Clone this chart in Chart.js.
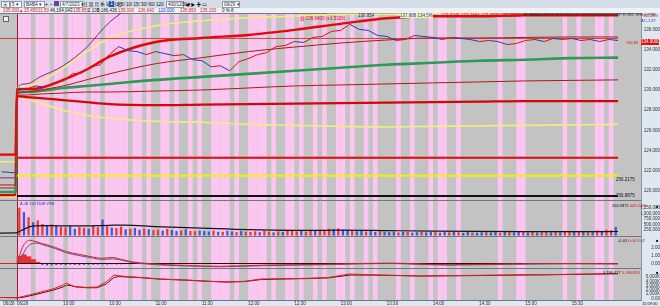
<!DOCTYPE html>
<html>
<head>
<meta charset="utf-8">
<script src="https://cdn.jsdelivr.net/npm/chart.js@4.4.0/dist/chart.umd.min.js"></script>
<style>
body { margin: 0; width: 660px; height: 306px; overflow: hidden; background: #dfe7f0;
       font-family: "Liberation Sans", "Noto Sans CJK SC", sans-serif; }
#wrap { position: relative; width: 660px; height: 306px; }
canvas { position: absolute; left: 0; }
.t { position: absolute; white-space: nowrap; font-size: 5px; line-height: 5px; }
.bx { position: absolute; top: 1px; height: 5px; background: #fff; border: 1px solid #8a9ab0;
      font-size: 4.5px; line-height: 5px; color: #222; padding-left: 1px; box-sizing: content-box; white-space: nowrap; }
.r { color: #e01010; } .k { color: #111; } .b { color: #2040c0; } .p { color: #8030a0; }
</style>
</head>
<body>
<div id="wrap">
  <div style="position:absolute;left:0;top:0;width:660px;height:8px;background:#d3dce7;"></div>
  <div style="position:absolute;left:0;top:8px;width:660px;height:5px;background:#eef2f7;"></div>
  <span class="bx" style="left:1px;width:6px">▣</span>
  <span class="bx" style="left:10px;width:9px">5 ▾</span>
  <span class="bx" style="left:24px;width:18px">BABA ▾</span>
  <span class="t k" style="left:45px;top:2px">+</span>
  <span class="t k" style="left:50px;top:2px">−</span>
  <span style="position:absolute;left:54px;top:1px;width:5px;height:5px;background:#7040a0"></span>
  <span class="bx" style="left:60px;width:20px">4/7/2023 ▾</span>
  <span class="t k" style="left:83px;top:2px;font-size:4.5px">日 周 月 季 年 分 秒</span>
  <span style="position:absolute;left:109px;top:1px;width:5px;height:6px;background:#2050c0;color:#fff;font-size:4.5px;line-height:6px;text-align:center">1</span>
  <span class="t k" style="left:116px;top:2px;font-size:4.5px">1/ 5/ 10/ 15/ 30/ 60/ 120</span>
  <span class="bx" style="left:166px;width:15px">400/1200 ▾</span>
  <span class="t k" style="left:185px;top:2px;font-size:4.5px">◀ ▶ ✚ ▭</span>
  <span class="bx" style="left:222px;width:15px">09/29 ▾</span>

  <span class="t r" style="left:3px;top:8px;font-size:4.5px">135.000</span>
  <span class="t r" style="left:19px;top:8px;font-size:4.5px">▲</span>
  <span class="t r" style="left:24px;top:8px;font-size:4.5px">15.450</span>
  <span class="t r" style="left:38px;top:8px;font-size:4.5px">11.50</span>
  <span class="t k" style="left:50px;top:8px;font-size:4.5px">46,164,043</span>
  <span class="t r" style="left:73px;top:8px;font-size:4.5px">135.850</span>
  <span class="t k" style="left:88px;top:8px;font-size:4.5px">2.100</span>
  <span class="t k" style="left:97px;top:8px;font-size:4.5px">5,186,436</span>
  <span class="t r" style="left:118px;top:8px;font-size:4.5px">135.000</span>
  <span class="t r" style="left:138px;top:8px;font-size:4.5px">136.640</span>
  <span class="t b" style="left:158px;top:8px;font-size:4.5px">120.000</span>
  <span class="t r" style="left:180px;top:8px;font-size:4.5px">135.850</span>
  <span class="t r" style="left:200px;top:8px;font-size:4.5px">135.100</span>
  <span class="t k" style="left:222px;top:8px;font-size:4.5px">0 % 8</span>

  <canvas id="cMain" width="660" height="187" style="top:13px"></canvas>
  <canvas id="cVol" width="660" height="36" style="top:200px"></canvas>
  <canvas id="cMacd" width="660" height="32" style="top:236px"></canvas>
  <canvas id="cObv" width="660" height="38" style="top:268px"></canvas>

  <span style="position:absolute;left:3px;top:16px;width:4px;height:4px;border:1px solid #666;background:#eee"></span>
  <span class="t r" style="left:300px;top:16px;font-size:4.5px">高:136.6400 (+1.5326) →</span>
  <span class="t" style="left:358px;top:13px;font-size:4.5px;color:#203080">136.854</span>
  <span class="t b" style="left:400px;top:13px;font-size:4.5px;background:#f4f0a8">137.988 134.5%</span>
  <span class="t r" style="left:441px;top:13px;font-size:4.5px">137.3245 137.2884 137.6821 137.5503</span>
  <span class="t k" style="left:524px;top:13px;font-size:3.8px;color:#303030">ALIBABA GROUP HOLDING LTD SPON ADS EACH REP 8 ORD SHS 分时图</span>
  <span class="t r" style="left:643px;top:13px;font-size:4px">SC-1.23</span>
  <span class="t b" style="left:641px;top:18px;font-size:4px">AC-1.37</span>
  <span class="t r" style="left:626px;top:40px;font-size:4px">134.85</span>
  <span style="position:absolute;left:641px;top:39px;width:18px;height:6px;background:#e01010;color:#fff;font-size:4.5px;line-height:6px;text-align:center">134.9000</span>
  <span class="t k" style="left:616px;top:177px;font-size:4.5px">256.2175</span>
  <span class="t k" style="left:616px;top:193px;font-size:4.5px">256.8875</span>

  <span class="t b" style="left:20px;top:201px;font-size:4px">A.JB 1057648 VSN</span>
  <span class="t k" style="left:612px;top:203px;font-size:4px">266.9875 <span class="r">445.0206</span></span>
  <span class="t k" style="left:618px;top:238px;font-size:4px">-0.03 <span class="r">0.00</span> <span class="p">0.02</span></span>
  <span class="t k" style="left:603px;top:270px;font-size:4px">5,186,427 <span class="r">5,186,833</span></span>
  <span class="t k" style="left:656px;top:204px;font-size:4px">■</span>
  <span class="t k" style="left:656px;top:238px;font-size:4px">■</span>
  <span class="t k" style="left:656px;top:270px;font-size:4px">■</span>
  <span class="t k" style="left:642px;top:301px;font-size:4px">15:59:30</span>
</div>

<script>
// ---- data ----
// minutes since 9:30 open (negative = previous session 06/28)
const priceTimes = [-10, -1, 0, 6, 12, 18, 24, 30, 36, 42, 48, 54, 60, 66, 72, 78, 84, 90, 96, 102, 108, 114,
  120, 126, 132, 138, 144, 150, 156, 162, 168, 174, 180, 186, 192, 198, 204, 210, 216, 222, 228, 234,
  240, 246, 252, 258, 264, 270, 276, 282, 288, 294, 300, 306, 312, 318, 324, 330, 336, 342, 348, 354,
  360, 366, 372, 378, 384, 390];
const price = [121.9, 121.8, 130.2, 130.1, 130.4, 130.3, 130.7, 130.9, 131.6, 131.7, 132.3, 132.5, 133.5, 134.3,
  133.9, 133.8, 133.5, 133.8, 133.6, 133.4, 133.5, 133.0, 132.9, 132.3, 132.4, 131.9, 132.8, 133.1,
  133.5, 133.7, 134.3, 134.4, 134.8, 134.7, 135.2, 135.3, 135.8, 135.9, 136.5, 136.0, 135.9, 135.4,
  135.3, 134.9, 135.0, 135.4, 135.3, 135.2, 135.0, 135.2, 135.1, 135.0, 134.8, 134.9, 134.8, 134.5,
  134.6, 134.9, 135.0, 134.8, 135.1, 135.0, 135.1, 134.9, 135.0, 134.8, 135.0, 134.9];

const bandTimes = [-11, -1, 0, 6, 15, 30, 45, 60, 90, 120, 150, 180, 210, 240, 270, 300, 330, 360, 390];
const upperRed = [123.6, 123.6, 130.0, 130.1, 130.2, 131.0, 132.0, 133.3, 134.75, 135.15, 135.45, 135.95, 136.55, 137.1, 137.3, 137.3, 137.4, 137.4, 137.4];
const upperYellow = [122.9, 122.9, 130.2, 130.4, 130.8, 132.2, 133.75, 135.15, 136.35, 136.85, 137.15, 137.3, 137.5, 137.5, 137.6, 137.6, 137.7, 137.7, 137.7];
const purpleBand = [121.3, 121.3, 130.2, 130.6, 131.3, 132.4, 134.2, 136.7, 139.5, 140.5, 141.0, 141.2, 141.3, 141.3, 141.3, 141.3, 141.3, 141.3, 141.3];
const midRed = [120.6, 120.6, 129.7, 129.8, 130.0, 130.4, 131.0, 131.6, 132.6, 133.2, 133.8, 134.25, 134.65, 134.95, 135.15, 135.15, 135.2, 135.25, 135.25];
const vwap = [119.9, 119.9, 129.7, 129.8, 129.9, 130.2, 130.4, 130.6, 131.0, 131.3, 131.6, 131.9, 132.2, 132.5, 132.7, 132.9, 133.0, 133.15, 133.2];
const lowRedThin = [120.3, 120.3, 129.5, 129.5, 129.6, 129.7, 129.8, 129.8, 129.9, 130.0, 130.2, 130.4, 130.5, 130.6, 130.7, 130.8, 130.9, 130.95, 131.0];
const lowRed = [119.6, 119.6, 129.4, 129.3, 129.2, 129.0, 128.8, 128.6, 128.5, 128.55, 128.6, 128.65, 128.7, 128.75, 128.8, 128.85, 128.9, 128.9, 128.9];
const lowYellow = [119.4, 119.4, 129.3, 129.1, 128.7, 128.0, 127.5, 127.2, 126.9, 126.8, 126.6, 126.5, 126.4, 126.35, 126.4, 126.45, 126.5, 126.55, 126.6];

const prevCloseLevel = 135.1;
const levelRed = 123.3;
const levelYellow = 121.5;
const levelBlack = 119.5;

// 3-minute slots: pink background flags, volume (K) and its colour (r/b)
const slotMin = 3;
const pinkSlots = '1110111011' + '0111101101' + '1111011010' + '0110100101' + '0011110100' +
  '1111010011' + '0100101001' + '1010010100' + '0010010001' + '0110010000' +
  '0000100011' + '0000000010' + '0100011010';
const volume = [1250, 1050, 820, 600, 680, 520, 470, 500, 430, 380,
  360, 420, 300, 380, 350, 310, 450, 380, 720, 420,
  360, 330, 400, 280, 300, 340, 260, 310, 280, 240,
  260, 220, 300, 250, 200, 230, 280, 210, 190, 230,
  200, 180, 220, 170, 160, 210, 180, 150, 200, 170,
  160, 190, 150, 210, 170, 140, 180, 160, 230, 200,
  180, 220, 170, 250, 200, 260, 230, 300, 280, 320,
  260, 240, 210, 190, 230, 180, 200, 160, 190, 170,
  150, 180, 140, 170, 160, 130, 150, 170, 140, 160,
  150, 130, 160, 140, 170, 150, 120, 160, 140, 130,
  150, 170, 140, 160, 130, 180, 150, 140, 170, 160,
  140, 160, 130, 150, 170, 140, 160, 150, 180, 170,
  160, 190, 170, 200, 180, 230, 210, 260, 240, 380];
const volDir = 'rbrbrrbrbr' + 'rbbrrbrrbr' + 'brrbrbbrbr' + 'rbrbbrbrrb' + 'bbrbrbbrbr' +
  'rrbrrbrbrr' + 'rbrrbrrrbr' + 'bbrbbrbbrb' + 'bbrbrbbrbb' + 'rbbrbrbbrb' +
  'brbbrbrbbr' + 'brbrrbrbrr' + 'brbrbrbrrb';
const volMaTimes = [-11, -1, 0, 5, 10, 20, 40, 60, 70, 90, 120, 150, 180, 210, 240, 270, 300, 330, 360, 390];
const volMa = [110, 115, 130, 300, 420, 440, 430, 460, 470, 400, 330, 260, 230, 240, 220, 200, 185, 175, 170, 180];

const macdTimes = [-11, -1, 0, 2, 4, 6, 8, 10, 13, 16, 20, 25, 32, 40, 48, 55, 62, 68, 75, 85, 97, 110, 132, 160, 200, 240, 280, 320, 360, 390];
const macdDif = [0, 0, 0.1, 1.2, 2.2, 2.7, 2.9, 2.85, 2.7, 2.5, 2.3, 2.0, 1.5, 1.15, 0.85, 0.65, 0.75, 0.5, 0.2, 0.0, -0.15, -0.25, -0.35, -0.2, -0.1, 0.05, -0.15, -0.05, 0.0, -0.03];
const macdDea = [0, 0, 0, 0.4, 1.2, 1.9, 2.3, 2.5, 2.55, 2.4, 2.15, 1.85, 1.35, 1.0, 0.72, 0.52, 0.58, 0.42, 0.12, -0.08, -0.22, -0.3, -0.4, -0.27, -0.15, 0.0, -0.2, -0.1, -0.04, -0.06];
const macdHist = [0.9, 1.1, 0.85, 0.5, 0.15, -0.2, -0.25, -0.22, -0.2, -0.18, -0.2, -0.15, -0.18, -0.2, -0.17,
  -0.15, -0.16, -0.14, -0.12, -0.15, -0.1, -0.12, -0.1, -0.08, -0.1, -0.06, -0.08, -0.05, -0.06, -0.04,
  -0.05, -0.03, -0.04, -0.02, -0.03, -0.02, -0.03, -0.02, -0.01, -0.02];

const obvTimes = [-11, -1, 0, 4, 8, 13, 18, 24, 30, 32, 35, 38, 45, 52, 58, 63, 66, 71, 80, 93, 110, 125, 136, 148, 158, 175, 190, 202, 216, 230, 262, 290, 317, 345, 372, 390];
const obvRed = [230, 200, 120, 500, 800, 1300, 1740, 2300, 3140, 3600, 3100, 2670, 2600, 2670, 3900, 5460, 5300, 5100, 4900, 4530, 4300, 4000, 3840, 4000, 4530, 4600, 4700, 4880, 5700, 5500, 5230, 5350, 5460, 5550, 5700, 5810];
const obvDark = [230, 200, 120, 300, 600, 1000, 1450, 2000, 2700, 3100, 3000, 2750, 2500, 2500, 3400, 4900, 5100, 5000, 4850, 4500, 4250, 3980, 3820, 3950, 4400, 4550, 4650, 4800, 5450, 5450, 5230, 5300, 5420, 5520, 5660, 5760];

const xTickMins = [-9, 0, 30, 60, 90, 120, 150, 180, 210, 240, 270, 300, 330, 360];
const xTickLabels = ['06/28', '06/29', '10:00', '10:30', '11:00', '11:30', '12:00', '12:30', '13:00', '13:30', '14:00', '14:30', '15:00', '15:30'];
const priceTicks = [120, 122, 124, 126, 128, 130, 132, 134, 136];
const volTicks = [250, 500, 750, 1000, 1250];
const macdTicks = [0, 1, 2];
const obvTicks = [0, 1000, 2000, 3000, 4000, 5000];

// ---- helpers ----
const FONT = '"Liberation Sans", Arial, sans-serif';
const X_MIN = -11.03, X_MAX = 404.9;
const UP = '#e01010', DOWN = '#1f3fc0';
const xy = (ts, vs) => vs.map((v, i) => ({x: ts[i], y: v}));
const flat = (lvl, from, to) => [{x: from, y: lvl}, {x: to, y: lvl}];

const panelBg = {
  id: 'panelBg',
  beforeDraw(chart) {
    const {ctx, chartArea: a, scales: {x}} = chart;
    ctx.save();
    ctx.fillStyle = '#dfe7f0';
    ctx.fillRect(0, 0, chart.width, chart.height);
    ctx.fillStyle = '#c3c3c3';
    ctx.fillRect(a.left, a.top, a.right - a.left, a.bottom - a.top);
    ctx.fillStyle = '#fcc6f2';
    for (let i = 0; i < pinkSlots.length; i++) {
      if (pinkSlots[i] !== '1') continue;
      const x0 = x.getPixelForValue(i * slotMin);
      const x1 = x.getPixelForValue((i + 1) * slotMin);
      ctx.fillRect(x0, a.top, x1 - x0, a.bottom - a.top);
    }
    const xs = Math.round(x.getPixelForValue(0)) + 0.5;
    ctx.strokeStyle = '#a02020';
    ctx.lineWidth = 1;
    ctx.beginPath(); ctx.moveTo(xs, a.top); ctx.lineTo(xs, a.bottom); ctx.stroke();
    ctx.strokeStyle = '#707880';
    ctx.beginPath(); ctx.moveTo(0, a.top + 0.5); ctx.lineTo(a.right, a.top + 0.5); ctx.stroke();
    ctx.restore();
  }
};

const xAxis = () => ({
  type: 'linear', min: X_MIN, max: X_MAX, display: false, offset: false,
  afterFit(s) { s.paddingLeft = 0; s.paddingRight = 0; }
});
const yAxis = (min, max, ticks, fmt, pad) => ({
  position: 'right', min, max,
  grid: {display: false, drawTicks: false},
  border: {color: '#8896a6'},
  ticks: {font: {size: 4.5, family: FONT}, color: '#333', crossAlign: 'far', padding: pad, autoSkip: false, callback: fmt},
  afterBuildTicks(s) { s.ticks = ticks.map(v => ({value: v})); },
  afterFit(s) { s.width = 19; s.paddingTop = 0; s.paddingBottom = 0; }
});
const baseOpts = (scales) => ({
  responsive: false, animation: false, events: [],
  layout: {padding: 0},
  plugins: {legend: {display: false}, tooltip: {enabled: false}},
  elements: {point: {radius: 0}},
  scales
});
const line = (data, color, width, extra) => Object.assign({
  type: 'line', data, borderColor: color, borderWidth: width, pointRadius: 0,
  cubicInterpolationMode: 'monotone', fill: false
}, extra || {});

// ---- main price panel ----
new Chart(document.getElementById('cMain'), {
  type: 'line',
  data: {datasets: [
    line(xy(priceTimes, price), DOWN, 1, {cubicInterpolationMode: 'default', tension: 0,
      segment: {borderColor: c => c.p1.parsed.y >= c.p0.parsed.y ? UP : DOWN}}),
    line(flat(prevCloseLevel, X_MIN, 390), '#d02020', 0.8),
    line(xy(bandTimes, upperRed), '#e00808', 2.4),
    line(xy(bandTimes, midRed), '#b01818', 1),
    line(xy(bandTimes, vwap), '#2f9a55', 2.6),
    line(xy(bandTimes, lowRedThin), '#b01818', 1),
    line(xy(bandTimes, lowRed), '#d00808', 2.2),
    line(xy(bandTimes, upperYellow), '#f2ec80', 1.6),
    line(xy(bandTimes, lowYellow), '#f2ec80', 1.6),
    line(xy(bandTimes, purpleBand), '#7a2a80', 1),
    line(flat(levelRed, 0, 390), '#e00808', 2),
    line(flat(levelYellow, 0, 390), '#f5f000', 2),
    line(flat(levelBlack, 0, 390), '#101010', 2)
  ]},
  options: baseOpts({
    x: xAxis(),
    y: yAxis(119.109, 137.622, priceTicks, v => v.toFixed(3), 0)
  }),
  plugins: [panelBg]
});

// ---- volume panel ----
new Chart(document.getElementById('cVol'), {
  type: 'bar',
  data: {datasets: [
    line(xy(volMaTimes, volMa), '#151515', 1.2),
    {type: 'bar', data: volume.map((v, i) => ({x: i * slotMin + slotMin / 2, y: v})),
     backgroundColor: volume.map((v, i) => volDir[i] === 'r' ? '#e83a3a' : '#3a5ad8'),
     barPercentage: 0.5, categoryPercentage: 1, grouped: false}
  ]},
  options: baseOpts({
    x: xAxis(),
    y: yAxis(-22.5, 1597.5, volTicks, v => (v * 1000).toLocaleString('en-US'), -4)
  }),
  plugins: [panelBg]
});

// ---- MACD panel ----
new Chart(document.getElementById('cMacd'), {
  type: 'bar',
  data: {datasets: [
    line(xy(macdTimes, macdDif), '#e02020', 1),
    line(xy(macdTimes, macdDea), '#4a5a9a', 1),
    line(flat(0, X_MIN, 390), '#3a0808', 1),
    {type: 'bar', data: macdHist.map((v, i) => ({x: i * slotMin + slotMin / 2, y: v > 0 ? v : 0})),
     backgroundColor: '#e83030', barPercentage: 1, categoryPercentage: 1, grouped: false},
    {type: 'bar', data: macdHist.map((v, i) => ({x: i * slotMin + slotMin / 2, y: v < 0 ? v : 0})),
     backgroundColor: '#3a5ad8', barPercentage: 0.45, categoryPercentage: 1, grouped: false}
  ]},
  options: baseOpts({
    x: xAxis(),
    y: yAxis(-0.5625, 3.4375, macdTicks, v => v.toFixed(2), 0)
  }),
  plugins: [panelBg]
});

// ---- bottom panel with time axis ----
new Chart(document.getElementById('cObv'), {
  type: 'line',
  data: {datasets: [
    line(xy(obvTimes, obvRed), '#e02020', 1, {cubicInterpolationMode: 'default', tension: 0}),
    line(xy(obvTimes, obvDark), '#5a1010', 1, {cubicInterpolationMode: 'default', tension: 0})
  ]},
  options: baseOpts({
    x: {
      type: 'linear', min: X_MIN, max: X_MAX, position: 'bottom', offset: false,
      grid: {display: true, drawOnChartArea: false, drawTicks: true, tickLength: 1.5, color: '#6a7a8a'},
      border: {color: '#6a7a8a'},
      ticks: {font: {size: 4.5, family: FONT}, color: '#333', align: 'start', maxRotation: 0, autoSkip: false, padding: 0,
        callback: v => { const k = xTickMins.indexOf(v); return k < 0 ? '' : xTickLabels[k]; }},
      afterBuildTicks(s) { s.ticks = xTickMins.map(v => ({value: v})); },
      afterFit(s) { s.height = 6; s.paddingLeft = 0; s.paddingRight = 0; }
    },
    y: yAxis(-349, 7093, obvTicks, v => v === 0 ? '0.00' : v.toLocaleString('en-US') + 'K', -1)
  }),
  plugins: [panelBg]
});
</script>
</body>
</html>
